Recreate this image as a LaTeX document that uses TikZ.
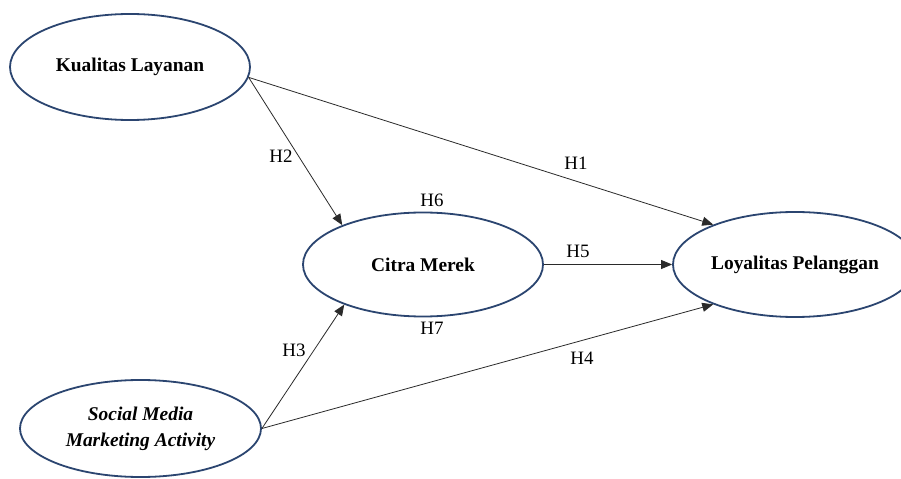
\documentclass[tikz,border=0pt]{standalone}
\usepackage{fontspec}
\setmainfont{Liberation Serif}
\usetikzlibrary{arrows.meta,shapes.geometric}
\definecolor{navy}{HTML}{2B4570}
\definecolor{linegray}{HTML}{2A2A2A}
\begin{document}
\begin{tikzpicture}[x=1bp,y=-1bp,
  latent/.style={ellipse,draw=navy,line width=1.8bp,inner sep=0pt,
    font=\fontsize{19.5}{26}\selectfont\bfseries,align=center},
  hyp/.style={draw=linegray,line width=0.8bp,-{Triangle[length=11bp,width=9bp]}},
  hlab/.style={font=\fontsize{19}{22}\selectfont,inner sep=0pt}]
\useasboundingbox (0,0) rectangle (901,479);
\clip (0,0) rectangle (901,479);
\fill[white] (0,0) rectangle (901,479);
\node[latent,minimum width=240bp,minimum height=106bp] (kl) at (130,67) {Kualitas Layanan};
\node[latent,minimum width=240bp,minimum height=104bp] (cm) at (423,264.5) {Citra Merek};
\node[latent,minimum width=244bp,minimum height=105bp] (lp) at (795,264.5) {Loyalitas Pelanggan};
\node[latent,minimum width=241bp,minimum height=97bp] (sm) at (140.5,428.5) {\itshape Social Media\\\itshape Marketing Activity};
\draw[hyp] (kl.-5) -- (lp.154.8);
\draw[hyp] (kl.-5) -- (cm.154.8);
\draw[hyp] (sm.east) -- (cm.207.1);
\draw[hyp] (sm.east) -- (lp.206.9);
\draw[hyp] (cm.east) -- (lp.west);
\node[hlab] (h1) at (576,163) {H1};
\node[hlab] (h2) at (281,156) {H2};
\node[hlab] (h3) at (294,350) {H3};
\node[hlab] (h4) at (582,358) {H4};
\node[hlab] (h5) at (578,251) {H5};
\node[hlab] (h6) at (432,200) {H6};
\node[hlab] (h7) at (432,328) {H7};
\end{tikzpicture}
\end{document}
